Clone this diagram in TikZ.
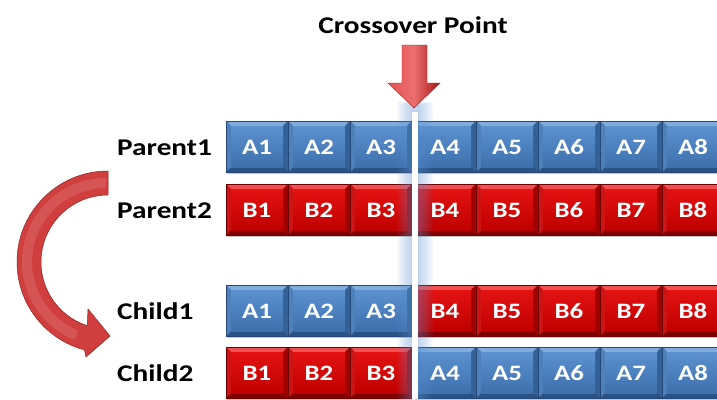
\documentclass[tikz,border=0pt]{standalone}
\usepackage{fontspec}
\setmainfont{Carlito}
\newfontfamily\widefont[FakeStretch=1.22]{Carlito}

% blue gene colours
\definecolor{gbedge}{RGB}{38,72,118}
\definecolor{gbtop}{RGB}{128,172,222}
\definecolor{gbbot}{RGB}{42,82,132}
\definecolor{gbside}{RGB}{78,128,188}
\definecolor{gbrside}{RGB}{52,96,152}
\definecolor{gbfa}{RGB}{92,144,206}
\definecolor{gbfb}{RGB}{62,112,174}
% red gene colours
\definecolor{gredge}{RGB}{110,0,0}
\definecolor{grtop}{RGB}{240,80,80}
\definecolor{grbot}{RGB}{128,0,0}
\definecolor{grside}{RGB}{205,20,20}
\definecolor{grrside}{RGB}{160,0,0}
\definecolor{grfa}{RGB}{228,18,18}
\definecolor{grfb}{RGB}{192,0,0}
% arrows and marker line
\definecolor{arcred}{RGB}{208,62,62}
\definecolor{arcedge}{RGB}{150,30,30}
\definecolor{arrowlight}{RGB}{232,84,84}
\definecolor{arrowdark}{RGB}{170,22,22}
\definecolor{glow}{RGB}{96,150,215}

\tikzset{
  boxtext/.style={text=white, inner sep=0pt,
    font=\widefont\fontsize{22}{22}\selectfont\bfseries},
  rowlabel/.style={anchor=west, inner sep=0pt,
    font=\widefont\fontsize{24}{24}\selectfont\bfseries},
  titletext/.style={inner sep=0pt,
    font=\widefont\fontsize{24}{24}\selectfont\bfseries},
}

% bevelled gene box: name, left x, top y, colour prefix, text
\newcommand\genebox[5]{%
  \fill[black!22] (#2+1,#3+2) rectangle ++(62,51);
  \fill[#4edge] (#2,#3) rectangle ++(62,51);
  \fill[#4top] (#2,#3) -- ++(62,0) -- ++(-5,5) -- ++(-52,0) -- cycle;
  \fill[#4bot] (#2,#3+51) -- ++(62,0) -- ++(-5,-5) -- ++(-52,0) -- cycle;
  \fill[#4side] (#2,#3) -- ++(5,5) -- ++(0,41) -- ++(-5,5) -- cycle;
  \fill[#4rside] (#2+62,#3) -- ++(-5,5) -- ++(0,41) -- ++(5,5) -- cycle;
  \shade[top color=#4fa, bottom color=#4fb] (#2+5,#3+5) rectangle ++(52,41);
  \draw[#4edge, line width=0.8pt] (#2,#3) rectangle ++(62,51);
  \node[boxtext] (#1) at (#2+31,#3+26) {#5};
}

\begin{document}
\begin{tikzpicture}[x=1pt, y=-1pt]
\path[use as bounding box, fill=white] (0,0) rectangle (717,399);
\clip (0,0) rectangle (717,399);

% title
\node[titletext] (title) at (413,25) {Crossover Point};

% row labels
\node[rowlabel] (lp1) at (117,148) {Parent1};
\node[rowlabel] (lp2) at (117,211) {Parent2};
\node[rowlabel] (lc1) at (117,311) {Child1};
\node[rowlabel] (lc2) at (117,373) {Child2};

% parents and children
\foreach \i [evaluate=\i as \xl using 226+62*(\i-1)] in {1,2,3} {
  \genebox{pa\i}{\xl}{121}{gb}{A\i}
  \genebox{pb\i}{\xl}{184}{gr}{B\i}
  \genebox{ca\i}{\xl}{285}{gb}{A\i}
  \genebox{cb\i}{\xl}{347}{gr}{B\i}
}
\foreach \i [evaluate=\i as \xl using 414+62*(\i-4)] in {4,...,8} {
  \genebox{pa\i}{\xl}{121}{gb}{A\i}
  \genebox{pb\i}{\xl}{184}{gr}{B\i}
  \genebox{ca\i}{\xl}{285}{gr}{B\i}
  \genebox{cb\i}{\xl}{347}{gb}{A\i}
}

% soft glow around the crossover line
\foreach \w in {18,16,...,4} {
  \fill[glow, opacity=.06] (414.5-\w,106-\w/4) rectangle (414.5+\w,399);
}
\fill[white] (411.5,112) rectangle (417.5,399);

% crossover point arrow
\shade[left color=arrowlight, right color=arrowdark, middle color=arrowlight!85!white,
       draw=arcedge, line width=0.4pt]
  (402,45) -- (427,45) -- (427,83) -- (440,83) -- (414,108) -- (388,83) -- (402,83) -- cycle;

% curved arrow from parents to children
\path[fill=arcred, draw=arcedge, line width=0.5pt]
  (108,171) arc[start angle=-90, end angle=-255, radius=91]
  -- (86,357) -- (110,336) -- (88,309) -- (87.3,325.7)
  arc[start angle=-252, end angle=-90, radius=67] -- cycle;
\draw[white, opacity=.12, line width=10pt]
  (106,183) arc[start angle=-90, end angle=-248, radius=79];
\end{tikzpicture}
\end{document}
